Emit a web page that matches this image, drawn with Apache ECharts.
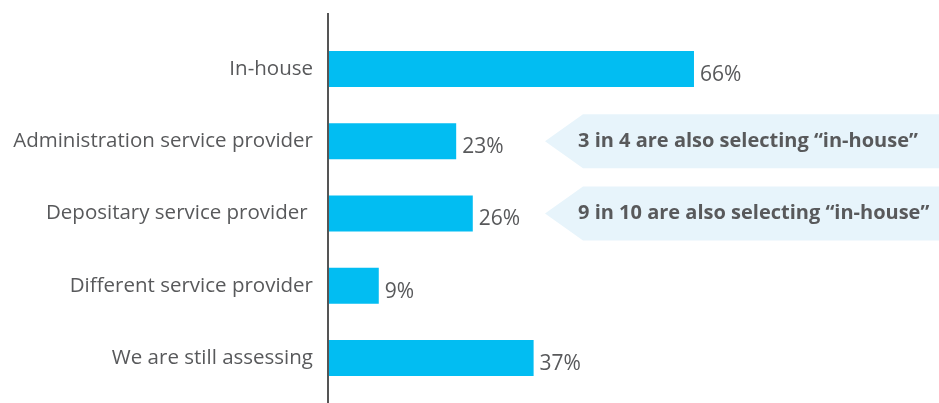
<!DOCTYPE html>
<html>
<head>
<meta charset="utf-8">
<script src="https://cdn.jsdelivr.net/npm/echarts@6/dist/echarts.min.js"></script>
<style>
html,body{margin:0;padding:0;background:#fff;}
#chart{width:939px;height:403px;}
</style>
</head>
<body>
<div id="chart"></div>
<script>
var categories = ["In-house", "Administration service provider", "Depositary service provider ", "Different service provider", "We are still assessing"];
var values = [66, 23, 26, 9, 37];
var callouts = [
  { category: "Administration service provider", text: "3 in 4 are also selecting \u201cin-house\u201d" },
  { category: "Depositary service provider ", text: "9 in 10 are also selecting \u201cin-house\u201d" }
];

var TEXT = '#58595b';
var FONT = '"Open Sans", Roboto, sans-serif';
var chart = echarts.init(document.getElementById('chart'), null, { renderer: 'canvas' });

var option = {
  animation: false,
  grid: { left: 329, right: 57, top: 33, bottom: 9, containLabel: false },
  xAxis: { type: 'value', min: 0, max: 100, show: false },
  yAxis: {
    type: 'category', data: categories, inverse: true,
    axisLine: { show: false }, axisTick: { show: false },
    axisLabel: { margin: 16, color: TEXT, fontSize: 20.5, fontFamily: FONT }
  },
  series: [{
    type: 'bar', data: values, barWidth: 36,
    itemStyle: { color: '#02bdf2' },
    label: { show: true, position: 'right', distance: 6, offset: [0, 6],
      formatter: '{c}%', color: TEXT, fontSize: 21, fontFamily: FONT }
  }]
};
chart.setOption(option);

function drawGraphics() {
  var els = [{
    type: 'line', shape: { x1: 328, y1: 13, x2: 328, y2: 403 },
    style: { stroke: '#555555', lineWidth: 2 }, z: 10
  }];
  callouts.forEach(function (c) {
    var cy = chart.convertToPixel({ yAxisIndex: 0 }, c.category);
    var h = 54, x0 = 545, x1 = 583, x2 = 945;
    els.push({
      type: 'polygon',
      shape: { points: [[x0, cy], [x1, cy - h / 2], [x2, cy - h / 2], [x2, cy + h / 2], [x1, cy + h / 2]] },
      style: { fill: '#e7f4fb' }, z: 5
    });
    els.push({
      type: 'text', x: 578, y: cy,
      style: { text: c.text, fill: TEXT, font: 'bold 20px ' + FONT, textVerticalAlign: 'middle', verticalAlign: 'middle' },
      z: 6
    });
  });
  chart.setOption({ graphic: els });
}
drawGraphics();
</script>
</body>
</html>
